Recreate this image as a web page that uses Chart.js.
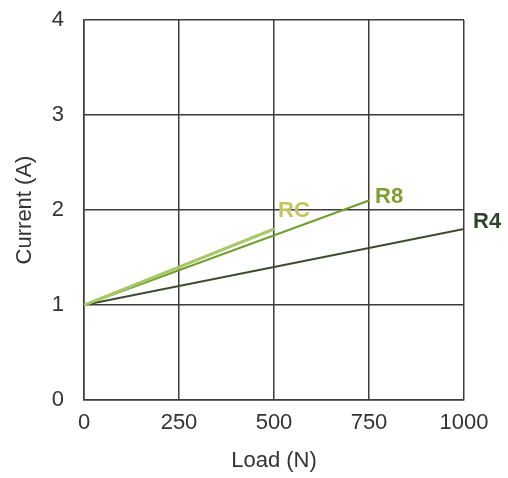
<!DOCTYPE html>
<html lang="en">
<head>
    <meta charset="UTF-8">
    <title>Current vs Load</title>
    <style>
        body {
            margin: 0;
            background: #fff;
        }
    </style>
    <script src="https://cdn.jsdelivr.net/npm/chart.js"></script>
</head>
<body>
    <canvas id="chart" width="508" height="478"></canvas>
    <script>
        // series: load (N) and current (A) at the two ends of each line
        const rcLoad = [0, 500];
        const rcCurrent = [1, 1.8];
        const r8Load = [0, 750];
        const r8Current = [1, 2.1];
        const r4Load = [0, 1000];
        const r4Current = [1, 1.8];

        const seriesNames = ['RC', 'R8', 'R4'];
        const lineColors = ['#a9c86a', '#6e9e2c', '#3b4a2c'];
        const labelColors = ['#c2c460', '#7f9e2e', '#33442e'];
        // label offsets from the line end, in pixels
        const labelOffsets = [[4, -18], [6, -4], [9, -7]];

        const xTicks = [0, 250, 500, 750, 1000];
        const yTicks = [0, 1, 2, 3, 4];

        function toPoints(xs, ys) {
            return xs.map(function (x, i) { return { x: x, y: ys[i] }; });
        }

        const allSeries = [
            toPoints(rcLoad, rcCurrent),
            toPoints(r8Load, r8Current),
            toPoints(r4Load, r4Current)
        ];

        const endLabels = {
            id: 'endLabels',
            afterDatasetsDraw(chart) {
                const ctx = chart.ctx;
                const xs = chart.scales.x;
                const ys = chart.scales.y;
                ctx.save();
                ctx.font = 'bold 22px "Liberation Sans", Arial, sans-serif';
                ctx.textAlign = 'left';
                ctx.textBaseline = 'middle';
                chart.data.datasets.forEach(function (ds, i) {
                    const last = ds.data[ds.data.length - 1];
                    ctx.fillStyle = labelColors[i];
                    ctx.fillText(ds.label,
                        xs.getPixelForValue(last.x) + labelOffsets[i][0],
                        ys.getPixelForValue(last.y) + labelOffsets[i][1]);
                });
                ctx.restore();
            }
        };

        const gridColor = '#3c3c3c';
        const textColor = '#333';
        const tickFont = { family: '"Liberation Sans", Arial, sans-serif', size: 22 };

        new Chart(document.getElementById('chart'), {
            type: 'scatter',
            data: {
                datasets: allSeries.map(function (pts, i) {
                    return {
                        label: seriesNames[i],
                        data: pts,
                        showLine: true,
                        borderColor: lineColors[i],
                        borderWidth: i === 0 ? 3 : 2,
                        pointRadius: 0,
                        fill: false
                    };
                })
            },
            options: {
                responsive: false,
                animation: false,
                layout: { padding: { top: 20, right: 44, left: 0, bottom: 0 } },
                plugins: {
                    legend: { display: false },
                    tooltip: { enabled: false }
                },
                scales: {
                    x: {
                        type: 'linear',
                        min: 0,
                        max: 1000,
                        afterBuildTicks(s) { s.ticks = xTicks.map(function (v) { return { value: v }; }); },
                        afterFit(s) { s.height = 78; },
                        grid: { color: gridColor, lineWidth: 1.5, drawTicks: false },
                        border: { color: gridColor, width: 1.5 },
                        ticks: {
                            color: textColor, font: tickFont, padding: 10, maxRotation: 0,
                            callback: function (v) { return String(v); }
                        },
                        title: {
                            display: true,
                            text: 'Load (N)',
                            color: textColor,
                            font: tickFont,
                            padding: { top: 4, bottom: 4 }
                        }
                    },
                    y: {
                        type: 'linear',
                        min: 0,
                        max: 4,
                        afterBuildTicks(s) { s.ticks = yTicks.map(function (v) { return { value: v }; }); },
                        afterFit(s) {
                            s.width = 84;
                            s.paddingTop = 0;
                            s.paddingBottom = 0;
                        },
                        grid: { color: gridColor, lineWidth: 1.5, drawTicks: false },
                        border: { color: gridColor, width: 1.5 },
                        ticks: { color: textColor, font: tickFont, padding: 20 },
                        title: {
                            display: true,
                            text: 'Current (A)',
                            color: textColor,
                            font: tickFont,
                            padding: { top: 12, bottom: 12 }
                        }
                    }
                }
            },
            plugins: [endLabels]
        });
    </script>
</body>
</html>
